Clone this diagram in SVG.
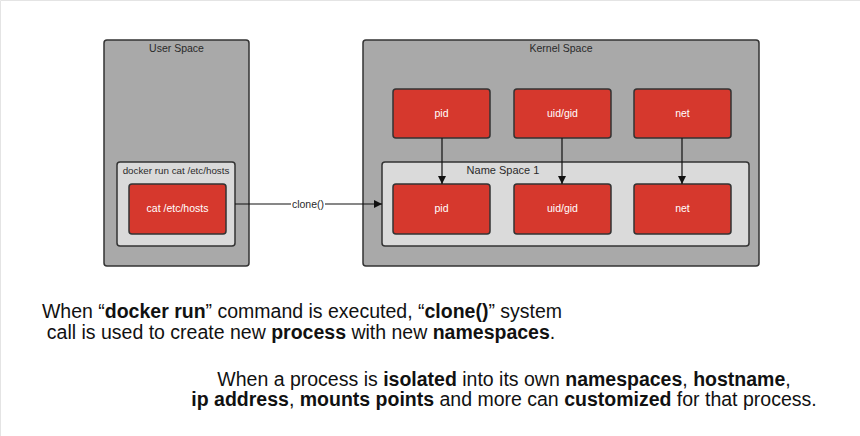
<svg xmlns="http://www.w3.org/2000/svg" width="860" height="436" viewBox="0 0 860 436">
<style>
.outer{fill:#a9a9a9;stroke:#333;stroke-width:1.5}
.inner{fill:#dadada;stroke:#333;stroke-width:1.5}
.red{fill:#d6382d;stroke:#333;stroke-width:1.5}
.lbl{font-family:"Liberation Sans",Arial,sans-serif;font-size:10.5px;fill:#2a2a2a;text-anchor:middle}
.wl{font-family:"Liberation Sans",Arial,sans-serif;font-size:10.5px;fill:#fff;text-anchor:middle}
.conn{stroke:#111;stroke-width:1.2;fill:none}
.cap{font-family:"Liberation Sans",Arial,sans-serif;font-size:19.5px;fill:#111;text-anchor:middle}
.b{font-weight:bold}
</style>
<defs>
<marker id="ah" viewBox="0 0 10 10" refX="10" refY="5" markerWidth="8" markerHeight="8" markerUnits="userSpaceOnUse" orient="auto">
<path d="M0,0 L10,5 L0,10 z" fill="#111"/>
</marker>
</defs>
<rect x="0" y="0" width="860" height="436" fill="#fff"/>
<path d="M0.5,436 V0.5 H860" stroke="#e4e4e4" fill="none"/>
<g id="user-space">
<rect class="outer" x="104" y="40" width="145" height="226" rx="3"/>
<text class="lbl" x="176.5" y="51.5">User Space</text>
</g>
<g id="docker-run">
<rect class="inner" x="117" y="162" width="118" height="84" rx="3"/>
<text class="lbl" x="176" y="173.5" style="font-size:9.8px">docker run cat /etc/hosts</text>
</g>
<g id="cat-hosts">
<rect class="red" x="129" y="184" width="97" height="50" rx="3"/>
<text class="wl" x="177.5" y="212">cat /etc/hosts</text>
</g>
<g id="kernel-space">
<rect class="outer" x="363" y="40" width="396" height="226" rx="3"/>
<text class="lbl" x="561" y="51.5">Kernel Space</text>
</g>
<g id="namespace-1">
<rect class="inner" x="382" y="162" width="367" height="84" rx="3"/>
<text class="lbl" x="503" y="174" style="font-size:11px">Name Space 1</text>
</g>
<g id="k-pid"><rect class="red" x="393" y="89" width="97" height="49" rx="3"/><text class="wl" x="441.5" y="117">pid</text></g>
<g id="k-uid"><rect class="red" x="514" y="89" width="97" height="49" rx="3"/><text class="wl" x="562.5" y="117">uid/gid</text></g>
<g id="k-net"><rect class="red" x="634" y="89" width="97" height="49" rx="3"/><text class="wl" x="682.5" y="117">net</text></g>
<g id="n-pid"><rect class="red" x="393" y="184" width="97" height="50" rx="3"/><text class="wl" x="441.5" y="212">pid</text></g>
<g id="n-uid"><rect class="red" x="514" y="184" width="97" height="50" rx="3"/><text class="wl" x="562.5" y="212">uid/gid</text></g>
<g id="n-net"><rect class="red" x="634" y="184" width="97" height="50" rx="3"/><text class="wl" x="682.5" y="212">net</text></g>
<g id="connectors">
<line class="conn" x1="442" y1="138" x2="442" y2="184" marker-end="url(#ah)"/>
<line class="conn" x1="562" y1="138" x2="562" y2="184" marker-end="url(#ah)"/>
<line class="conn" x1="682" y1="138" x2="682" y2="184" marker-end="url(#ah)"/>
<line class="conn" x1="235" y1="204" x2="382" y2="204" marker-end="url(#ah)"/>
<rect x="291" y="198" width="34" height="11" fill="#fff"/>
<text class="lbl" x="308" y="207.5">clone()</text>
</g>
<g id="caption-1">
<text class="cap" x="302" y="318">When “<tspan class="b">docker run</tspan>” command is executed, “<tspan class="b">clone()</tspan>” system</text>
<text class="cap" x="301" y="339">call is used to create new <tspan class="b">process</tspan> with new <tspan class="b">namespaces</tspan>.</text>
</g>
<g id="caption-2">
<text class="cap" x="504" y="386">When a process is <tspan class="b">isolated</tspan> into its own <tspan class="b">namespaces</tspan>, <tspan class="b">hostname</tspan>,</text>
<text class="cap" x="504" y="406"><tspan class="b">ip address</tspan>, <tspan class="b">mounts points</tspan> and more can <tspan class="b">customized</tspan> for that process.</text>
</g>
</svg>
